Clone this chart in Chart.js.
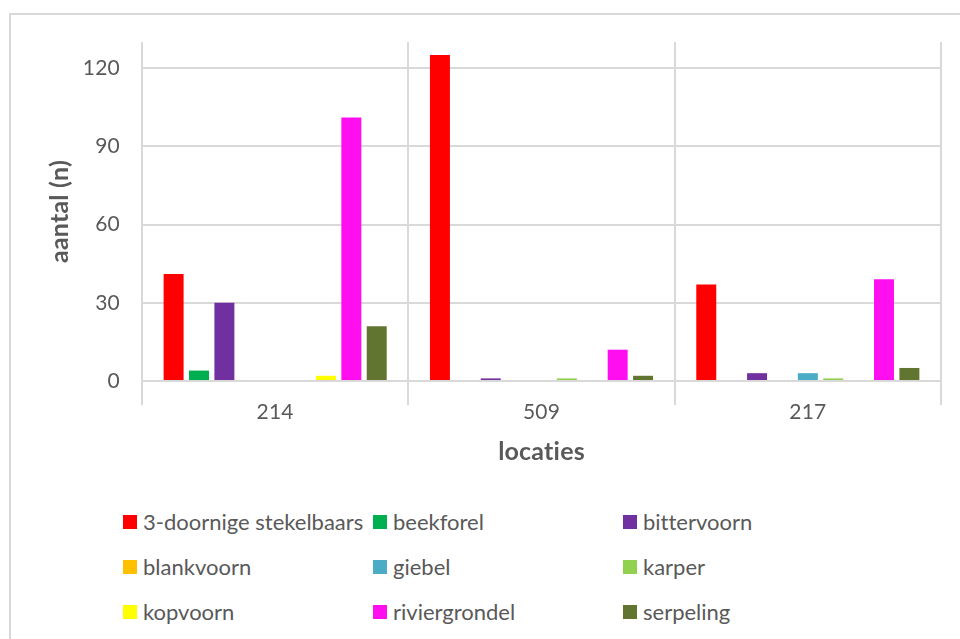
<!DOCTYPE html>
<html>
<head>
<meta charset="utf-8">
<script src="https://cdn.jsdelivr.net/npm/chart.js@4"></script>
<style>
  html, body { margin: 0; padding: 0; background: #fff; }
  #wrap { position: relative; width: 960px; height: 639px; overflow: hidden; font-family: Lato, "Open Sans", sans-serif; font-variant-ligatures: none; }
  #frame { position: absolute; left: 9px; top: 13px; width: 1000px; height: 700px; border: 2px solid #d9d9d9; box-sizing: border-box; }
  #box { position: absolute; left: 0; top: 0; width: 960px; height: 480px; }
  #legend { position: absolute; left: 0; top: 0; }
  .item { position: absolute; display: flex; align-items: center; white-space: nowrap; color: #595959; font-size: 22px; line-height: 26px; }
  .item span.sw { width: 14px; height: 14px; margin-right: 6px; display: inline-block; }
</style>
</head>
<body>
<div id="wrap">
  <div id="frame"></div>
  <div id="box"><canvas id="chart"></canvas></div>
  <div id="legend"></div>
</div>
<script>
const locaties = ['214', '509', '217']
const soorten = ['3-doornige stekelbaars', 'beekforel', 'bittervoorn', 'blankvoorn', 'giebel', 'karper', 'kopvoorn', 'riviergrondel', 'serpeling']
const kleuren = ['#ff0000', '#00b050', '#7030a0', '#ffc000', '#4bacc6', '#92d050', '#ffff00', '#ff0ff0', '#617530']

// aantallen per soort, in volgorde van locaties
const stekelbaars = [41, 125, 37]
const beekforel = [4, 0, 0]
const bittervoorn = [30, 1, 3]
const blankvoorn = [0, 0, 0]
const giebel = [0, 0, 3]
const karper = [0, 1, 1]
const kopvoorn = [2, 0, 0]
const riviergrondel = [101, 12, 39]
const serpeling = [21, 2, 5]

const reeksen = [stekelbaars, beekforel, bittervoorn, blankvoorn, giebel, karper, kopvoorn, riviergrondel, serpeling]

const yTicks = [0, 30, 60, 90, 120]

const grid = '#d9d9d9'
const tekst = '#595959'

// kleine letterafstand zet de "ti"-ligatuur van Lato uit op het canvas
const geenLigaturen = {
  id: 'geenLigaturen',
  beforeDraw: chart => { chart.ctx.letterSpacing = '0.2px' }
}

const chart = new Chart(document.getElementById('chart'), {
  type: 'bar',
  data: {
    labels: locaties,
    datasets: soorten.map((naam, i) => ({
      label: naam,
      data: reeksen[i],
      backgroundColor: kleuren[i],
      categoryPercentage: 0.858,
      barPercentage: 0.787
    }))
  },
  plugins: [geenLigaturen],
  options: {
    responsive: true,
    maintainAspectRatio: false,
    animation: false,
    layout: { padding: { left: 40, top: 42, right: 19, bottom: 13 } },
    plugins: {
      legend: { display: false },
      tooltip: { enabled: false }
    },
    scales: {
      x: {
        grid: { offset: true, color: grid, lineWidth: 2, tickLength: 24, tickColor: grid },
        border: { display: false },
        ticks: { color: tekst, font: { family: 'Lato', size: 21 }, padding: -5 },
        title: { display: true, text: 'locaties', color: tekst, font: { family: 'Lato', size: 25, weight: 'bold' }, padding: 0 },
        afterFit: axis => { axis.height = 86 }
      },
      y: {
        min: 0,
        max: 130,
        ticks: { stepSize: 30, color: tekst, font: { family: 'Lato', size: 21 }, padding: 22 },
        afterBuildTicks: axis => { axis.ticks = yTicks.map(v => ({ value: v })) },
        grid: { color: grid, lineWidth: 2, drawTicks: false },
        border: { display: false },
        title: { display: true, text: 'aantal (n)', color: tekst, font: { family: 'Lato', size: 25, weight: 'bold' }, padding: { top: 5, bottom: 0 } },
        afterFit: axis => { axis.width = 102 }
      }
    }
  }
})

// legenda in drie kolommen
const legend = document.getElementById('legend')
chart.data.datasets.forEach((ds, i) => {
  const el = document.createElement('div')
  el.className = 'item'
  el.style.left = (123 + (i % 3) * 250) + 'px'
  el.style.top = (522 + Math.floor(i / 3) * 45 - 13) + 'px'
  el.innerHTML = '<span class="sw" style="background:' + ds.backgroundColor + '"></span>'
  el.appendChild(document.createTextNode(ds.label))
  legend.appendChild(el)
})
</script>
</body>
</html>
